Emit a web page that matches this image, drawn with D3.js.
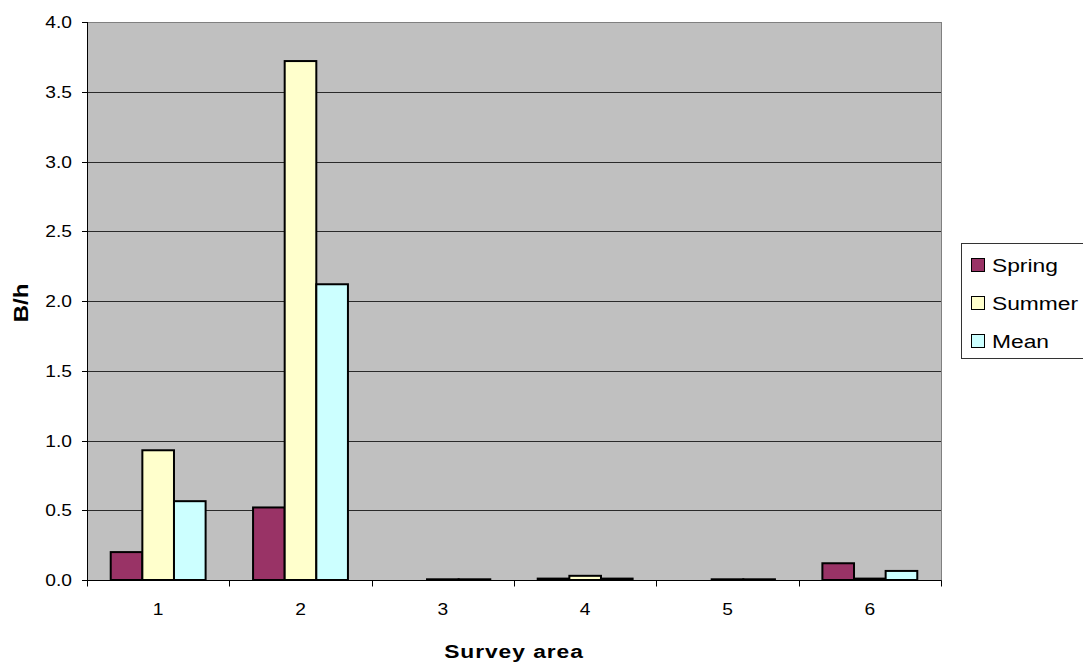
<!DOCTYPE html>
<html>
<head>
<meta charset="utf-8">
<script src="https://cdn.jsdelivr.net/npm/d3@7"></script>
<style>
  html, body { margin: 0; padding: 0; background: #fff; }
  svg { display: block; font-family: Arial, "Liberation Sans", sans-serif; }
</style>
</head>
<body>
<svg id="chart" width="1083" height="662"></svg>
<script>
// Survey areas and seasonal rates (B/h)
const categories = ["1", "2", "3", "4", "5", "6"];
const seriesNames = ["Spring", "Summer", "Mean"];
const spring = [0.20, 0.52, 0.00, 0.01, 0.00, 0.12];
const summer = [0.93, 3.72, 0.005, 0.03, 0.005, 0.01];
const mean   = [0.565, 2.12, 0.005, 0.01, 0.005, 0.065];
const yTicks = [0, 0.5, 1.0, 1.5, 2.0, 2.5, 3.0, 3.5, 4.0];
const colors = ["#993366", "#FFFFCC", "#CCFFFF"];

const seriesValues = [spring, summer, mean];

const svg = d3.select("#chart");
const plot = { left: 87, top: 22, right: 941, bottom: 580 };
const SX = 1.2; // horizontal stretch applied to all text

// text with a horizontal stretch around its anchor point
function label(parent, x, y, str, opts = {}) {
  return parent.append("text")
    .attr("transform", `translate(${x},${y}) scale(${opts.sx || SX},1)`)
    .attr("text-anchor", opts.anchor || "start")
    .attr("font-size", opts.size || 16)
    .attr("font-weight", opts.weight || "normal")
    .attr("letter-spacing", opts.spacing || 0)
    .attr("fill", "#000")
    .text(str);
}

const x0 = d3.scaleBand().domain(categories).range([plot.left, plot.right]).paddingInner(0).paddingOuter(0);
const bw = x0.bandwidth();
const groupW = bw * 3 / 4.5;
const x1 = d3.scaleBand().domain(seriesNames)
  .range([(bw - groupW) / 2, (bw + groupW) / 2]).padding(0);
const y = d3.scaleLinear().domain([0, 4]).range([plot.bottom, plot.top]);

// plot background
svg.append("rect")
  .attr("x", plot.left).attr("y", plot.top)
  .attr("width", plot.right - plot.left).attr("height", plot.bottom - plot.top)
  .attr("fill", "#C0C0C0");

// horizontal gridlines
svg.append("g").selectAll("line").data(yTicks.filter(d => d > 0)).join("line")
  .attr("x1", plot.left).attr("x2", plot.right)
  .attr("y1", d => Math.round(y(d)) + 0.5).attr("y2", d => Math.round(y(d)) + 0.5)
  .attr("stroke", "#2a2a2a").attr("stroke-width", 1);

// bars
const groups = svg.append("g").selectAll("g").data(categories).join("g")
  .attr("transform", d => `translate(${x0(d)},0)`);

groups.selectAll("rect")
  .data((c, i) => seriesNames.map((s, k) => ({ s, k, v: seriesValues[k][i] })).filter(d => d.v > 0))
  .join("rect")
  .attr("x", d => x1(d.s))
  .attr("width", x1.bandwidth())
  .attr("y", d => y(d.v))
  .attr("height", d => Math.max(0, y(0) - y(d.v)))
  .attr("fill", d => colors[d.k])
  .attr("stroke", "#000").attr("stroke-width", 2);

// plot border
svg.append("rect")
  .attr("x", plot.left + 0.5).attr("y", plot.top + 0.5)
  .attr("width", plot.right - plot.left).attr("height", plot.bottom - plot.top)
  .attr("fill", "none").attr("stroke", "#808080").attr("stroke-width", 1);

// y axis: line, ticks and labels
const yg = svg.append("g");
yg.append("line").attr("x1", plot.left + 0.5).attr("x2", plot.left + 0.5)
  .attr("y1", plot.top).attr("y2", plot.bottom + 1).attr("stroke", "#000");
yg.selectAll("line.tk").data(yTicks).join("line").attr("class", "tk")
  .attr("x1", plot.left - 5).attr("x2", plot.left)
  .attr("y1", d => Math.round(y(d)) + 0.5).attr("y2", d => Math.round(y(d)) + 0.5)
  .attr("stroke", "#000");
yTicks.forEach(t => label(yg, 72, y(t) + 6, d3.format(".1f")(t), { anchor: "end", size: 16 }));

// x axis with ticks at category boundaries
const xg = svg.append("g").attr("transform", `translate(0,${plot.bottom + 0.5})`);
xg.append("line").attr("x1", plot.left).attr("x2", plot.right + 0.5).attr("stroke", "#000");
const bounds = categories.map(c => x0(c)).concat([plot.right]);
xg.selectAll("line.tk").data(bounds).join("line").attr("class", "tk")
  .attr("x1", d => Math.round(d) + 0.5).attr("x2", d => Math.round(d) + 0.5)
  .attr("y1", 0).attr("y2", 6).attr("stroke", "#000");
categories.forEach(c => label(xg, x0(c) + bw / 2, 34, c, { anchor: "middle", size: 16 }));

// axis titles
svg.append("text")
  .attr("transform", `translate(28,${(plot.top + plot.bottom) / 2 + 2}) rotate(-90) scale(${SX},1)`)
  .attr("text-anchor", "middle").attr("font-size", 20).attr("font-weight", "bold")
  .text("B/h");
label(svg, (plot.left + plot.right) / 2, 658, "Survey area",
  { anchor: "middle", size: 19, weight: "bold", spacing: 0.8 });

// legend
const lg = svg.append("g").attr("transform", "translate(961,243)");
lg.append("rect").attr("x", 0.5).attr("y", 0.5).attr("width", 125).attr("height", 115)
  .attr("fill", "#fff").attr("stroke", "#333");
const items = lg.selectAll("g.item").data(seriesNames).join("g").attr("class", "item")
  .attr("transform", (d, i) => `translate(10,${22 + i * 38})`);
items.append("rect").attr("x", 0.5).attr("y", -6.5).attr("width", 13).attr("height", 13)
  .attr("fill", (d, i) => colors[i]).attr("stroke", "#000").attr("stroke-width", 1);
items.each(function (d) { label(d3.select(this), 21, 7, d, { size: 19 }); });
</script>
</body>
</html>
